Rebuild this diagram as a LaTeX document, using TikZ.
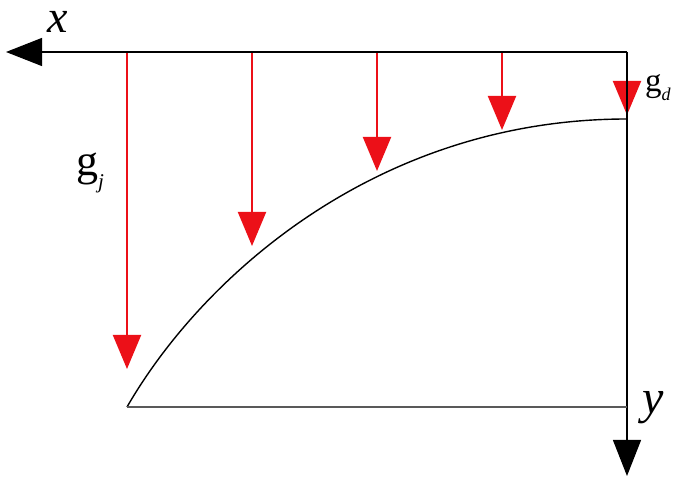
\documentclass[tikz,border=0pt]{standalone}
\usepackage{fontspec}
\setmainfont{Liberation Serif}
\usetikzlibrary{arrows.meta}
\definecolor{loadred}{RGB}{236,16,24}
\begin{document}
\begin{tikzpicture}[x=1pt,y=1pt]
\tikzstyle{every node}+=[inner sep=0pt]
\tikzstyle{axis}=[black, line width=1.2pt, -{Triangle[length=36pt,width=28pt]}]
\tikzstyle{load}=[loadred, line width=2pt, -{Triangle[length=34pt,width=28pt]}]
\useasboundingbox (0,0) rectangle (685,481);
\coordinate (O) at (627,429);
\coordinate (xtip) at (6,429);
\coordinate (ytip) at (627,5);
\coordinate (A) at (127,74);
\coordinate (B) at (627,74);
\coordinate (C) at (627,362);
\coordinate (q1) at (127,429);
\coordinate (q2) at (252,429);
\coordinate (q3) at (377,429);
\coordinate (q4) at (502,429);
\coordinate (q5) at (627,429);
\coordinate (p1) at (127,112);
\coordinate (p2) at (252,235);
\coordinate (p3) at (377,310);
\coordinate (p4) at (502,351);
\coordinate (p5) at (627,366);
\draw [load] (q1) -- (p1);
\draw [load] (q2) -- (p2);
\draw [load] (q3) -- (p3);
\draw [load] (q4) -- (p4);
\draw [load] (q5) -- (p5);
\draw [axis] (O) -- (xtip);
\draw [axis] (O) -- (ytip);
\draw [black, line width=1.4pt] (A) .. controls (202,204) and (377,362) .. (C);
\draw [black!65, line width=1.2pt] (A) -- (B);
\node (xlab) at (58,459) {\fontsize{46}{46}\selectfont\textit{x}};
\node (ylab) at (653,73) {\fontsize{48}{48}\selectfont\textit{y}};
\node [anchor=base west] (gj) at (76,305) {\fontsize{44}{44}\selectfont g\raisebox{-13pt}{\fontsize{21}{21}\selectfont\textit{j}}};
\node [anchor=base west] (gd) at (645,389) {\fontsize{33}{33}\selectfont g\raisebox{-9pt}{\fontsize{18}{18}\selectfont\textit{d}}};
\end{tikzpicture}
\end{document}
